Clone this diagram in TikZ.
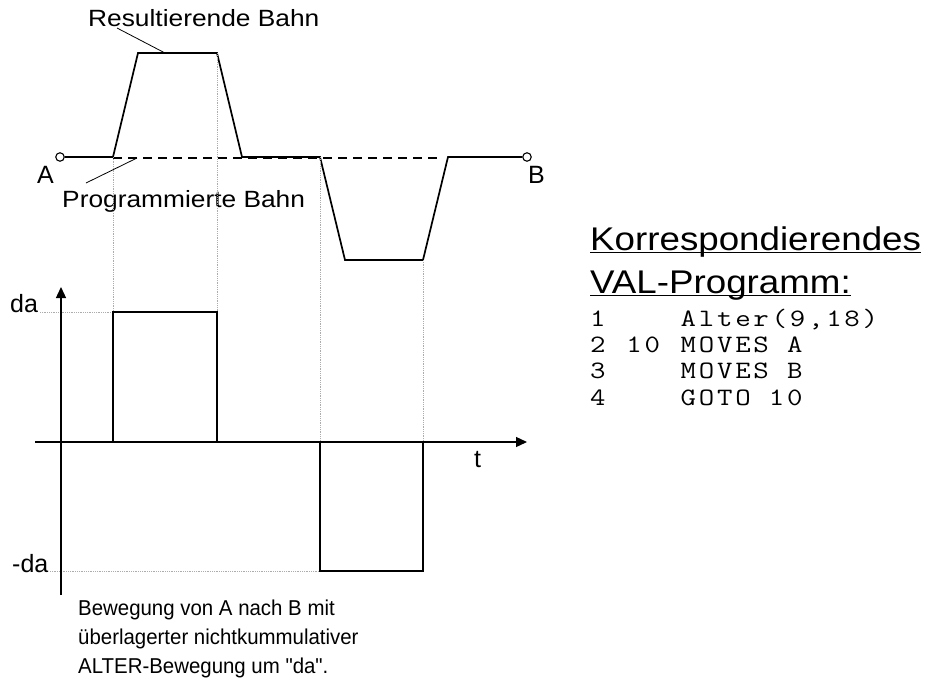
\documentclass[tikz,border=0pt]{standalone}
\usepackage{fontspec}
\setmainfont{Liberation Sans}
\newfontfamily\widesans[FakeStretch=1.12]{Liberation Sans}
\newfontfamily\narrowsans[FakeStretch=0.95]{Liberation Sans}
\newfontfamily\codefont[FakeStretch=1.2,LetterSpace=11]{Latin Modern Mono}
\usetikzlibrary{arrows.meta}
\tikzset{
  >={Triangle[length=11pt,width=10pt]},
  bahn/.style={line width=1.7pt,line join=miter},
  puls/.style={line width=1.4pt},
  hilf/.style={gray!65,line width=0.8pt,densely dotted},
  achse/.style={->,line width=1.3pt},
  leader/.style={line width=0.8pt},
  marke/.style={circle,draw,fill=white,line width=1.1pt,inner sep=0pt,minimum size=8.5pt},
  lbl/.style={font=\fontsize{25}{28}\selectfont,inner sep=0pt,anchor=base west},
  bahntext/.style={font=\widesans\fontsize{23.5}{28}\selectfont,inner sep=0pt,anchor=base west},
  note/.style={font=\narrowsans\fontsize{21.5}{29}\selectfont,inner sep=0pt,anchor=base west},
  head/.style={font=\widesans\fontsize{32.8}{43}\selectfont,inner sep=0pt,anchor=base west},
  code/.style={font=\codefont\fontsize{25}{27}\selectfont,inner sep=0pt,anchor=base west},
}
\newcommand{\comma}{,}

\begin{document}
\begin{tikzpicture}[x=1pt,y=-1pt]
  \useasboundingbox (0,0) rectangle (930,680);

  % Bahn von A nach B
  \node[marke] (A) at (60,157) {};
  \node[marke] (B) at (527,157) {};
  \draw[bahn] (A) -- (113,157) -- (138,53) -- (217,53) -- (242,157) -- (320,157)
    -- (345,260) -- (423,260) -- (448,157) -- (B);
  \draw[line width=1.4pt,dash pattern=on 9pt off 6pt] (113,158) -- (440,158);
  \node[lbl] (la) at (37,183) {A};
  \node[lbl] (lb) at (528,183) {B};

  \node[bahntext] (res) at (88,27) {Resultierende Bahn};
  \node[bahntext] (prog) at (62,207) {Programmierte Bahn};
  \coordinate (res end) at (165,53);
  \coordinate (prog end) at (137,158);
  \draw[leader] (117,28) -- (res end);
  \draw[leader] (86,183) -- (prog end);

  % Hilfslinien
  \draw[hilf] (113,157) -- (113,312);
  \draw[hilf] (217,53) -- (217,312);
  \draw[hilf] (320,157) -- (320,442);
  \draw[hilf] (423,260) -- (423,442);
  \draw[hilf] (40,312) -- (113,312);
  \draw[hilf] (50,571) -- (320,571);

  % Achsen
  \draw[achse] (61,595) -- (61,287);
  \draw[achse] (35,442) -- (527,442);
  \node[lbl] (t) at (474,467) {t};
  \node[lbl] (da) at (10,312) {da};
  \node[lbl] (mda) at (12,572) {-da};

  % ALTER-Impulse
  \draw[puls] (113,442) -- (113,312) -- (217,312) -- (217,442);
  \draw[puls] (320,442) -- (320,571) -- (423,571) -- (423,442);

  \foreach \z [count=\i from 0] in {Bewegung von A nach B mit,
      überlagerter nichtkummulativer, ALTER-Bewegung um "da".}
    \node[note] (cap\i) at (78,615+29*\i) {\z};

  % Programm
  \node[head] (kor) at (590,250) {Korrespondierendes};
  \node[head] (val) at (590,293) {VAL-Programm:};
  \draw[line width=1.3pt] ([yshift=-2.5pt]kor.base west) -- ([yshift=-2.5pt]kor.base east);
  \draw[line width=1.3pt] ([yshift=-2.5pt]val.base west) -- ([yshift=-2.5pt]val.base east);
  \foreach \nr/\mk/\cmd [count=\i from 0] in {1//Alter(9\comma18), 2/10/MOVES A,
      3//MOVES B, 4//GOTO 10}
  {
    \node[code] (nr\i) at (590,326+26.4*\i) {\nr};
    \node[code] (mk\i) at (626.2,326+26.4*\i) {\mk};
    \node[code] (cmd\i) at (680.5,326+26.4*\i) {\cmd};
  }
\end{tikzpicture}
\end{document}
